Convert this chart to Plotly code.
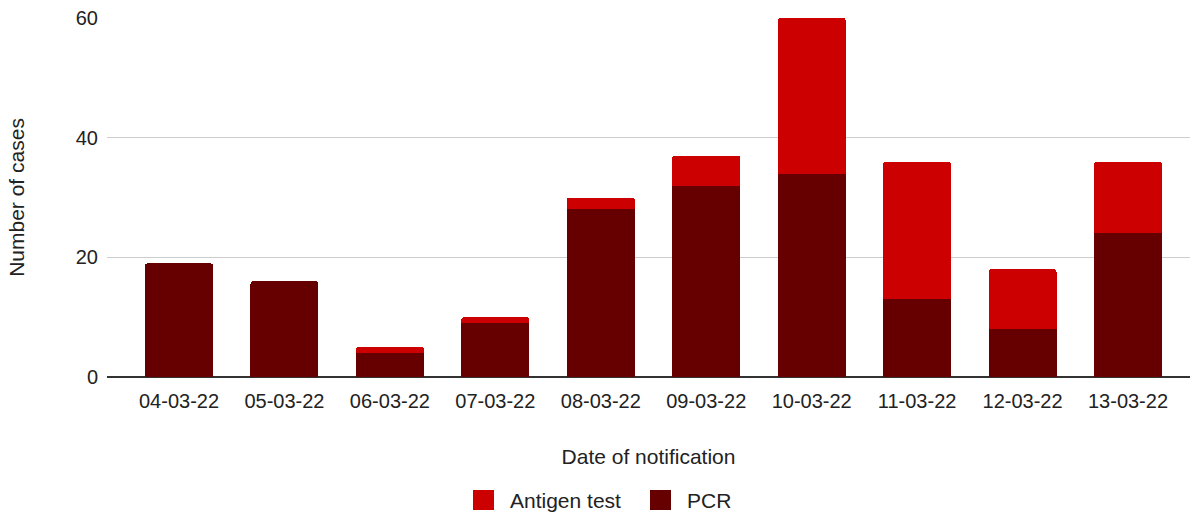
import plotly.graph_objects as go

dates = ["04-03-22", "05-03-22", "06-03-22", "07-03-22", "08-03-22",
         "09-03-22", "10-03-22", "11-03-22", "12-03-22", "13-03-22"]
pcr = [19, 16, 4, 9, 28, 32, 34, 13, 8, 24]
antigen = [0, 0, 1, 1, 2, 5, 26, 23, 10, 12]
y_ticks = [0, 20, 40, 60]

FONT = "Liberation Sans, Arial, sans-serif"
TEXT = "#222222"
xs = list(range(len(dates)))

series = [
    ("PCR", pcr, "#660000"),
    ("Antigen test", antigen, "#cc0000"),
]

fig = go.Figure()
for name, vals, color in series:
    fig.add_trace(go.Bar(x=xs, y=vals, name=name, width=0.645,
                         marker=dict(color=color, line_width=0), showlegend=False))

# Plot area geometry (pixels) used to place the custom legend below the axis
W, H = 1193, 513
ML, MR, MT, MB = 107, 3, 18, 136
pw, ph = W - ML - MR, H - MT - MB

def px_x(px):
    return (px - ML) / pw

def px_y(py):
    return (H - MB - py) / ph

# Legend: large swatches followed by labels, Antigen test first
legend_items = [("Antigen test", "#cc0000", 473), ("PCR", "#660000", 650)]
shapes, annotations = [], []
for label, color, x0 in legend_items:
    shapes.append(dict(type="rect", xref="paper", yref="paper",
                       x0=px_x(x0), x1=px_x(x0 + 21), y0=px_y(490), y1=px_y(510),
                       fillcolor=color, line=dict(width=0), layer="above"))
    annotations.append(dict(text=label, xref="paper", yref="paper",
                            x=px_x(x0 + 35), y=px_y(500), xanchor="left", yanchor="middle",
                            showarrow=False, font=dict(size=21, color=TEXT, family=FONT)))

fig.update_layout(
    width=W, height=H,
    barmode="stack",
    barcornerradius=3,
    plot_bgcolor="white", paper_bgcolor="white",
    margin=dict(l=ML, r=MR, t=MT, b=MB, autoexpand=False),
    font=dict(family=FONT, size=20, color=TEXT),
    showlegend=False,
    shapes=shapes,
    annotations=annotations,
    xaxis=dict(
        tickmode="array", tickvals=xs, ticktext=dates,
        range=[-0.683, 9.588],
        showgrid=False, ticks="",
        ticklabelstandoff=10,
        title=dict(text="Date of notification", font=dict(size=21), standoff=38),
        showline=False, zeroline=False,
    ),
    yaxis=dict(
        range=[0, 60], tickvals=y_ticks, ticks="",
        gridcolor="#cccccc", gridwidth=1,
        zeroline=True, zerolinecolor="#333333", zerolinewidth=1.5,
        title=dict(text="Number of cases", font=dict(size=21), standoff=45),
        ticklabelstandoff=8,
    ),
)

fig.write_html("out.html")
